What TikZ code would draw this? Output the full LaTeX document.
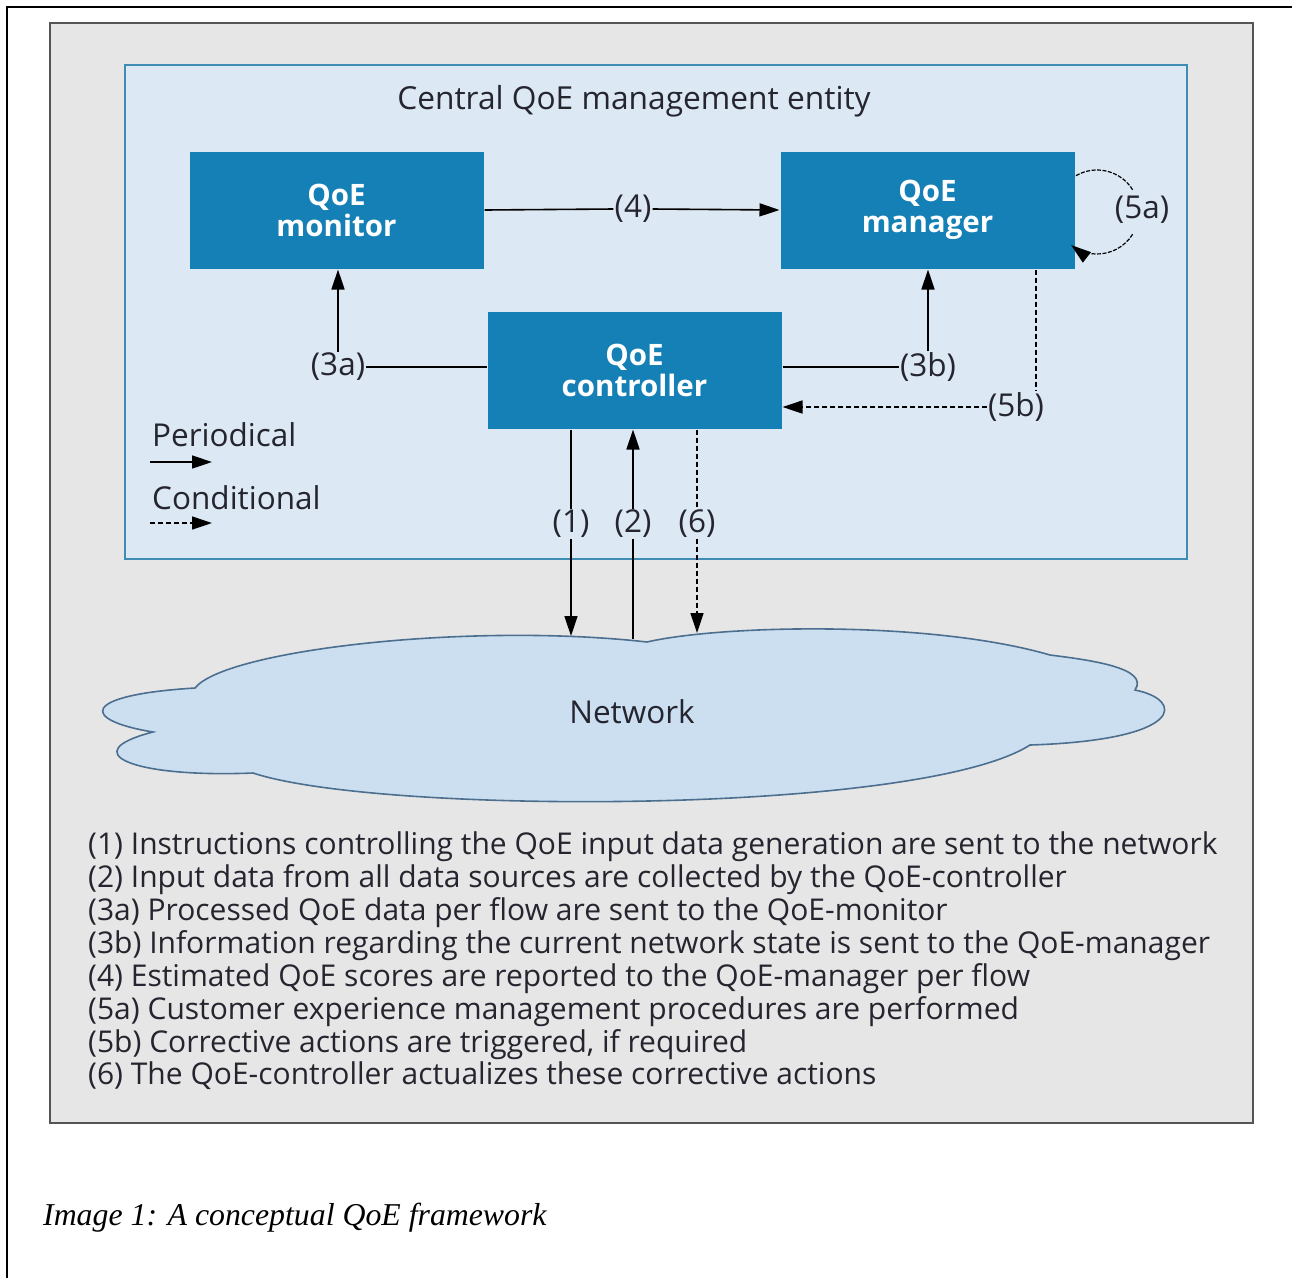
\documentclass[tikz,border=0pt]{standalone}
\usepackage{fontspec}
\setmainfont{Open Sans}
\newfontfamily\capfont{Liberation Serif}
\usetikzlibrary{arrows.meta,calc}
\definecolor{greyfill}{HTML}{E6E6E6}
\definecolor{greyline}{HTML}{555555}
\definecolor{lightblue}{HTML}{DCE8F4}
\definecolor{lbline}{HTML}{3F8DB5}
\definecolor{boxblue}{HTML}{1580B6}
\definecolor{cloudfill}{HTML}{CCDFF1}
\definecolor{cloudline}{HTML}{4D6F8F}
\definecolor{txt}{HTML}{25252F}
\tikzset{
  qbox/.style={fill=boxblue, draw=lightblue, line width=1pt, minimum width=295pt, minimum height=118pt,
    text=white, align=center, font=\fontsize{29.5}{31}\selectfont\bfseries, inner sep=0pt},
  lbl/.style={text=txt, font=\fontsize{31.5}{34}\selectfont, inner sep=1pt},
  conn/.style={draw=black, line width=1.6pt},
  tip/.style={-{Triangle[length=20pt,width=13pt]}},
  cond/.style={conn, line width=1.4pt, dash pattern=on 5pt off 3pt},
}
\begin{document}
\begin{tikzpicture}[x=1pt,y=-1pt]
\useasboundingbox (0,0) rectangle (1292,1278);
\fill[white] (0,0) rectangle (1292,1278);
% page frame
\draw[line width=1.6pt] (7,1278) -- (7,7) -- (1292,7);
% grey panel
\draw[fill=greyfill, draw=greyline, line width=2.2pt] (50,23) rectangle (1253,1123);
% light blue entity
\draw[fill=lightblue, draw=lbline, line width=2pt] (125,65) rectangle (1187,559);
\node[lbl, font=\fontsize{31.7}{34}\selectfont] (title) at (634,101) {Central QoE management entity};
% boxes
\node[qbox] (mon) at (336.5,210) {QoE\\monitor};
\node[qbox] (man) at (927.5,210) {QoE\\manager};
\node[qbox] (ctl) at (634.5,370) {QoE\\controller};
% (4)
\node[lbl] (l4) at (633,209) {(4)};
\draw[conn] (mon.east) -- (l4.west);
\draw[conn,tip] (l4.east) -- (man.west);
% (5a)
\node[lbl] (l5a) at (1142,210) {(5a)};
\draw[cond, line width=1.2pt, dash pattern=on 4pt off 1.5pt] ($(1097,212)+(-120:42)$) arc[start angle=-120, end angle=-32, radius=42];
\draw[cond, line width=1.2pt, dash pattern=on 4pt off 1.5pt, tip] ($(1097,212)+(32:42)$) arc[start angle=32, end angle=128, radius=42];
% (3a)
\node[lbl] (l3a) at (338,367) {(3a)};
\draw[conn] (ctl.west |- l3a.east) -- (l3a.east);
\draw[conn,tip] (l3a.north) -- (l3a.north |- mon.south);
% (3b)
\node[lbl] (l3b) at (928,367) {(3b)};
\draw[conn] (ctl.east |- l3b.west) -- (l3b.west);
\draw[conn,tip] (l3b.north) -- (l3b.north |- man.south);
% (5b)
\node[lbl] (l5b) at (1016,407) {(5b)};
\coordinate (c5b) at ([xshift=108.5pt]man.south);
\draw[cond] (c5b) -- (c5b |- l5b.north);
\draw[cond,tip] (l5b.west) -- (ctl.east |- l5b.west);
% legend
\node[lbl, anchor=west] (per) at (151,435) {Periodical};
\coordinate (pa) at (150,462);
\coordinate (pb) at (212,462);
\draw[conn,tip] (pa) -- (pb);
\node[lbl, anchor=west] (cnd) at (151,498) {Conditional};
\coordinate (ca) at (150,523);
\coordinate (cb) at (212,523);
\draw[cond,tip] (ca) -- (cb);
% cloud
\draw[fill=cloudfill, draw=cloudline, line width=1.6pt]
  (195,688) .. controls (225,650) and (470,622) .. (647,642)
  .. controls (720,625) and (930,620) .. (1050,655)
  .. controls (1090,660) and (1150,668) .. (1135,690)
  .. controls (1185,700) and (1185,740) .. (1030,745)
  .. controls (920,815) and (380,815) .. (253,773)
  .. controls (130,778) and (75,752) .. (153,732)
  .. controls (80,720) and (80,695) .. (195,688) -- cycle;
\node[lbl] (net) at (632,712) {Network};
% (1) (2) (6)
\node[lbl] (l1) at (571,524) {(1)};
\node[lbl] (l2) at (633,524) {(2)};
\node[lbl] (l6) at (697,524) {(6)};
\coordinate (n1) at (571,636);
\coordinate (n2) at (633,639);
\coordinate (n6) at (697,633);
\draw[conn] (ctl.south -| l1.north) -- (l1.north);
\draw[conn,tip] (l1.south) -- (n1);
\draw[conn] (n2) -- (l2.south);
\draw[conn,tip] (l2.north) -- (ctl.south -| l2.north);
\draw[cond] (ctl.south -| l6.north) -- (l6.north);
\draw[cond,tip] (l6.south) -- (n6);
% list
\node[lbl, anchor=west, align=left, font=\fontsize{30}{32.86}\selectfont] (list) at (87,961) {%
(1) Instructions controlling the QoE input data generation are sent to the network\\
(2) Input data from all data sources are collected by the QoE-controller\\
(3a) Processed QoE data per flow are sent to the QoE-monitor\\
(3b) Information regarding the current network state is sent to the QoE-manager\\
(4) Estimated QoE scores are reported to the QoE-manager per flow\\
(5a) Customer experience management procedures are performed\\
(5b) Corrective actions are triggered, if required\\
(6) The QoE-controller actualizes these corrective actions};
% caption
\node[anchor=west, inner sep=0pt, text=black, font=\capfont\itshape\fontsize{31.8}{36}\selectfont] (cap) at (43,1218) {Image 1: A conceptual QoE framework};
\end{tikzpicture}
\end{document}
